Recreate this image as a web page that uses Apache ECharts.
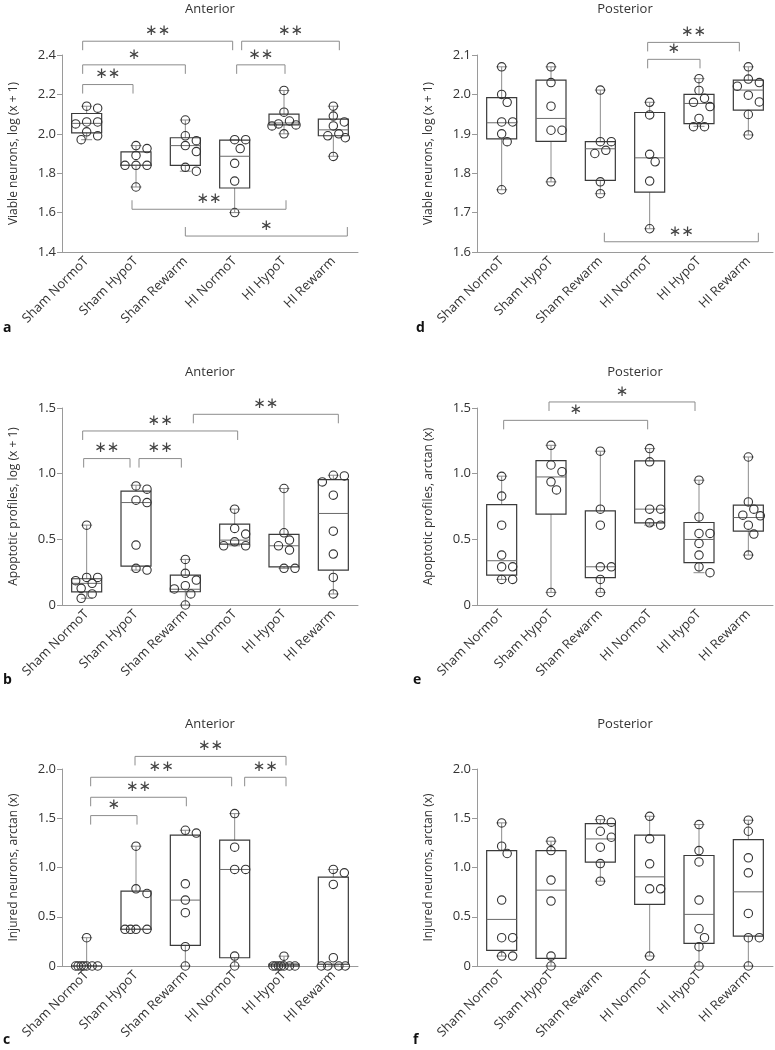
<!DOCTYPE html>
<html><head><meta charset="utf-8">
<script src="https://cdn.jsdelivr.net/npm/echarts@6/dist/echarts.min.js"></script>
<style>html,body{margin:0;padding:0;background:#fff}#c{width:775px;height:1050px}</style>
</head><body><div id="c"></div>
<script>
// ---------------- DATA ----------------
const categories = ['Sham NormoT', 'Sham HypoT', 'Sham Rewarm', 'HI NormoT', 'HI HypoT', 'HI Rewarm'];

// box stats per group: [min, q1, median, q3, max]
const aBoxes = [[1.97,2.005,2.053,2.103,2.14],[1.73,1.84,1.84,1.908,1.94],[1.81,1.84,1.94,1.98,2.07],[1.60,1.725,1.886,1.968,1.97],[2.00,2.045,2.055,2.10,2.22],[1.886,1.99,2.02,2.075,2.14]];
const aPoints = [[2.14,2.13,2.06,2.05,2.06,2.01,1.99,1.97],[1.94,1.925,1.89,1.84,1.84,1.84,1.73],[2.07,1.99,1.965,1.94,1.91,1.83,1.81],[1.97,1.97,1.925,1.85,1.76,1.60],[2.22,2.11,2.065,2.05,2.045,2.04,2.00],[2.14,2.09,2.06,2.04,2.00,1.99,1.98,1.885]];
const aBrackets = [[0,3,2.47,'down'],[3,5,2.47,'down'],[0,2,2.35,'down'],[3,4,2.35,'down'],[0,1,2.25,'down'],[1,4,1.617,'up'],[2,5,1.481,'up']];
const aBracketLabels = ['**','**','*','**','**','**','*'];

const dBoxes = [[1.758,1.887,1.928,1.992,2.07],[1.778,1.881,1.939,2.036,2.07],[1.748,1.782,1.862,1.88,2.011],[1.659,1.752,1.839,1.954,1.98],[1.919,1.926,1.977,2.0,2.04],[1.897,1.96,2.011,2.036,2.07]];
const dPoints = [[2.07,2.0,1.98,1.93,1.93,1.90,1.88,1.758],[2.07,2.03,1.97,1.909,1.909,1.778],[2.011,1.88,1.88,1.858,1.85,1.778,1.748],[1.98,1.948,1.848,1.829,1.78,1.659],[2.04,2.01,1.99,1.98,1.969,1.939,1.918,1.918],[2.07,2.039,2.03,2.021,1.998,1.981,1.949,1.897]];
const dBrackets = [[3,5,2.132,'down'],[3,4,2.089,'down'],[2,5,1.626,'up']];
const dBracketLabels = ['**','*','**'];

const bBoxes = [[0.051,0.10,0.165,0.20,0.608],[0.266,0.296,0.78,0.867,0.912],[0.0,0.101,0.12,0.228,0.347],[0.451,0.464,0.494,0.616,0.73],[0.279,0.291,0.451,0.537,0.887],[0.084,0.266,0.697,0.955,0.988]];
const bPoints = [[0.608,0.21,0.21,0.185,0.165,0.127,0.084,0.051],[0.907,0.882,0.798,0.78,0.456,0.279,0.266],[0.347,0.241,0.19,0.147,0.122,0.084,0.0],[0.73,0.583,0.54,0.481,0.451,0.451],[0.887,0.55,0.494,0.451,0.418,0.279,0.279],[0.988,0.983,0.937,0.836,0.562,0.388,0.21,0.084]];
const bBrackets = [[0,3,1.325,'down'],[2,5,1.452,'down'],[0,1,1.115,'down'],[1,2,1.115,'down']];
const bBracketLabels = ['**','**','**','**'];

const eBoxes = [[0.195,0.228,0.337,0.765,0.981],[0.096,0.692,0.975,1.1,1.216],[0.096,0.208,0.291,0.717,1.171],[0.608,0.626,0.73,1.097,1.191],[0.246,0.322,0.499,0.628,0.95],[0.38,0.562,0.666,0.76,1.127]];
const ePoints = [[0.98,0.829,0.608,0.38,0.291,0.291,0.195,0.195],[1.216,1.066,1.015,0.938,0.876,0.096],[1.171,0.73,0.608,0.291,0.291,0.195,0.096],[1.191,1.09,0.73,0.73,0.626,0.608],[0.95,0.671,0.545,0.545,0.469,0.38,0.291,0.246],[1.127,0.785,0.73,0.684,0.679,0.608,0.54,0.38]];
const eBrackets = [[0,3,1.406,'down'],[1,4,1.546,'down']];
const eBracketLabels = ['*','*'];

const cBoxes = [[0,0,0,0,0.287],[0.372,0.372,0.372,0.76,1.216],[0,0.209,0.669,1.328,1.378],[0,0.084,0.98,1.277,1.547],[0,0,0,0.02,0.1],[0,0.017,0.017,0.902,0.98]];
const cPoints = [[0.287,0,0,0,0,0,0,0],[1.216,0.784,0.736,0.372,0.372,0.372,0.372],[1.378,1.35,0.834,0.669,0.541,0.196,0],[1.547,1.206,0.98,0.98,0.101,0],[0.1,0,0,0,0,0,0,0],[0.98,0.946,0.828,0.084,0,0,0,0]];
const cBrackets = [[1,4,2.128,'down'],[0,3,1.916,'down'],[3,4,1.916,'down'],[0,2,1.713,'down'],[0,1,1.527,'down']];
const cBracketLabels = ['**','**','**','**','*'];

const fBoxes = [[0.101,0.159,0.473,1.172,1.453],[0,0.078,0.77,1.172,1.267],[0.861,1.054,1.29,1.446,1.486],[0.101,0.625,0.905,1.328,1.52],[0,0.23,0.524,1.122,1.436],[0,0.304,0.753,1.284,1.48]];
const fPoints = [[1.453,1.216,1.142,0.669,0.287,0.287,0.101,0.101],[1.267,1.172,0.872,0.659,0.101,0],[1.486,1.46,1.368,1.307,1.206,1.04,0.861],[1.52,1.291,1.037,0.784,0.784,0.101],[1.436,1.172,1.057,0.669,0.378,0.287,0.196,0],[1.48,1.368,1.098,0.946,0.534,0.287,0.287,0]];
const fBrackets = [];
const fBracketLabels = [];

// axis ranges and tick steps
const aAxis = [1.4, 2.4, 0.2];
const dAxis = [1.6, 2.1, 0.1];
const bAxis = [0, 1.5, 0.5];
const eAxis = [0, 1.5, 0.5];
const cAxis = [0, 2.0, 0.5];
const fAxis = [0, 2.0, 0.5];

const titles = { a: 'Anterior', d: 'Posterior', b: 'Anterior', e: 'Posterior', c: 'Anterior', f: 'Posterior' };
const yNames = {
  a: 'Viable neurons, log (x + 1)', d: 'Viable neurons, log (x + 1)',
  b: 'Apoptotic profiles, log (x + 1)', e: 'Apoptotic profiles, arctan (x)',
  c: 'Injured neurons, arctan (x)', f: 'Injured neurons, arctan (x)'
};

// ---------------- LAYOUT / STYLE ----------------
const GRID_W = 296, GRID_H = 197;
const layout = {
  a: { left: 62, top: 55, titleX: 210, titleY: 9, letterX: 3, letterY: 328, nudge: [[-4,-2],[7,6],[-4,0],[2,1],[-4,-3],[-4,2],[0,14]] },
  d: { left: 477, top: 55, titleX: 625, titleY: 9, letterX: 416, letterY: 328, nudge: [[-2,-9],[-2,1],[4,10]] },
  b: { left: 62, top: 408, titleX: 210, titleY: 372, letterX: 3, letterY: 680, nudge: [[-4,3],[8,5],[-3,-6],[3,-4]] },
  e: { left: 477, top: 408, titleX: 635, titleY: 372, letterX: 413, letterY: 680, nudge: [[2,-2],[-2,-4]] },
  c: { left: 62, top: 769, titleX: 210, titleY: 724, letterX: 3, letterY: 1040, nudge: [[-1,2],[4,-3],[10,2],[4,1],[4,1]] },
  f: { left: 477, top: 769, titleX: 625, titleY: 724, letterX: 413, letterY: 1040, nudge: [] }
};
const panels = [
  { key: 'a', boxes: aBoxes, points: aPoints, brackets: aBrackets, labels: aBracketLabels, axis: aAxis },
  { key: 'd', boxes: dBoxes, points: dPoints, brackets: dBrackets, labels: dBracketLabels, axis: dAxis },
  { key: 'b', boxes: bBoxes, points: bPoints, brackets: bBrackets, labels: bBracketLabels, axis: bAxis },
  { key: 'e', boxes: eBoxes, points: ePoints, brackets: eBrackets, labels: eBracketLabels, axis: eAxis },
  { key: 'c', boxes: cBoxes, points: cPoints, brackets: cBrackets, labels: cBracketLabels, axis: cAxis },
  { key: 'f', boxes: fBoxes, points: fPoints, brackets: fBrackets, labels: fBracketLabels, axis: fAxis }
];

const FONT = '"Open Sans", "Noto Sans", sans-serif';
const TXT = '#333';
const AXIS_C = '#9a9a9a';
const R = 4.2, COLLIDE = 9, STEP = 5.5, CAP = 12;

// beeswarm offsets (pixels), computed from values and the axis pixel scale
function swarm(values, pxPerUnit) {
  const order = values.map((v, i) => i).sort((i, j) => values[j] - values[i]);
  const placed = [];
  const offs = new Array(values.length).fill(0);
  const cands = [0, STEP, -STEP, 2 * STEP, -2 * STEP];
  order.forEach(idx => {
    const y = values[idx] * pxPerUnit;
    const minDist = dx => placed.reduce((m, p) => Math.min(m, Math.hypot(dx - p[0], y - p[1])), Infinity);
    let chosen = null;
    for (const c of cands) { if (minDist(c) >= COLLIDE) { chosen = c; break; } }
    if (chosen === null) {
      let best = -1;
      for (let dx = -CAP; dx <= CAP; dx += 0.5) {
        const md = minDist(dx);
        if (md > best + 1e-6) { best = md; chosen = dx; }
      }
    }
    offs[idx] = chosen;
    placed.push([chosen, y]);
  });
  return offs;
}

const grids = [], xAxes = [], yAxes = [], series = [], graphics = [];
const fmt = v => (Math.abs(v) < 1e-9 ? '0' : v.toFixed(1));

panels.forEach((p, gi) => {
  const L = layout[p.key];
  const [ymin, ymax, ystep] = p.axis;
  grids.push({ left: L.left, top: L.top, width: GRID_W, height: GRID_H });
  xAxes.push({
    type: 'category', gridIndex: gi, data: categories, boundaryGap: true,
    axisLine: { onZero: false, lineStyle: { color: AXIS_C, width: 1 } },
    axisTick: { alignWithLabel: true, length: 5, lineStyle: { color: AXIS_C } },
    axisLabel: { rotate: 45, fontSize: 13, color: TXT, margin: 7, fontFamily: FONT, interval: 0 },
    splitLine: { show: false }
  });
  xAxes.push({ type: 'value', gridIndex: gi, min: -0.5, max: 5.5, show: false, splitLine: { show: false } });
  yAxes.push({
    type: 'value', gridIndex: gi, min: ymin, max: ymax, interval: ystep,
    name: yNames[p.key], nameLocation: 'middle', nameGap: 42,
    nameTextStyle: { fontSize: 12, color: TXT, fontFamily: FONT },
    axisLine: { show: true, onZero: false, lineStyle: { color: AXIS_C, width: 1 } },
    axisTick: { show: true, length: 5, lineStyle: { color: AXIS_C } },
    axisLabel: { fontSize: 13, color: TXT, margin: 6, fontFamily: FONT, formatter: fmt },
    splitLine: { show: false }
  });
  const xi = gi * 2 + 1;
  const pxPerUnit = GRID_H / (ymax - ymin);

  // boxes
  series.push({
    type: 'custom', xAxisIndex: xi, yAxisIndex: gi, z: 3, silent: true,
    data: p.boxes.map((b, i) => [i, b[0], b[1], b[2], b[3], b[4]]),
    renderItem: (params, api) => {
      const i = api.value(0);
      const pMin = api.coord([i, api.value(1)]), pQ1 = api.coord([i, api.value(2)]);
      const pMed = api.coord([i, api.value(3)]), pQ3 = api.coord([i, api.value(4)]);
      const pMax = api.coord([i, api.value(5)]);
      const cx = pMin[0], hw = 15, cw = 5.5;
      const wh = { stroke: '#8c8c8c', lineWidth: 1 };
      return {
        type: 'group', children: [
          { type: 'line', shape: { x1: cx, y1: pQ3[1], x2: cx, y2: pMax[1] }, style: wh },
          { type: 'line', shape: { x1: cx, y1: pQ1[1], x2: cx, y2: pMin[1] }, style: wh },
          { type: 'line', shape: { x1: cx - cw, y1: pMax[1], x2: cx + cw, y2: pMax[1] }, style: wh },
          { type: 'line', shape: { x1: cx - cw, y1: pMin[1], x2: cx + cw, y2: pMin[1] }, style: wh },
          { type: 'rect', shape: { x: cx - hw, y: pQ3[1], width: 2 * hw, height: pQ1[1] - pQ3[1] }, style: { fill: 'none', stroke: '#3a3a3a', lineWidth: 1.2 } },
          { type: 'line', shape: { x1: cx - hw, y1: pMed[1], x2: cx + hw, y2: pMed[1] }, style: { stroke: '#6a6a6a', lineWidth: 1 } }
        ]
      };
    }
  });

  // points
  const ptData = [];
  p.points.forEach((vals, i) => {
    const offs = swarm(vals, pxPerUnit);
    vals.forEach((v, k) => ptData.push([i, v, offs[k]]));
  });
  series.push({
    type: 'custom', xAxisIndex: xi, yAxisIndex: gi, z: 4, silent: true,
    data: ptData,
    renderItem: (params, api) => {
      const c = api.coord([api.value(0), api.value(1)]);
      return { type: 'circle', shape: { cx: c[0] + api.value(2), cy: c[1], r: R }, style: { fill: 'none', stroke: '#333', lineWidth: 1.1 } };
    }
  });

  // significance brackets
  if (p.brackets.length) {
    series.push({
      type: 'custom', xAxisIndex: xi, yAxisIndex: gi, z: 5, silent: true, clip: false,
      data: p.brackets.map(b => [b[0], b[1], b[2], b[3] === 'up' ? 1 : 0]),
      renderItem: (params, api) => {
        const k = params.dataIndex;
        const n = L.nudge[k] || [0, 0];
        const a = api.coord([api.value(0), api.value(2)]);
        const b = api.coord([api.value(1), api.value(2)]);
        const x1 = a[0] + n[0], x2 = b[0] + n[1], y = a[1];
        const t = api.value(3) ? -9 : 9;
        const stars = p.labels[k].replace(/\*/g, '\u2217');
        return {
          type: 'group', children: [
            { type: 'polyline', shape: { points: [[x1, y + t], [x1, y], [x2, y], [x2, y + t]] }, style: { fill: 'none', stroke: '#8c8c8c', lineWidth: 1 } },
            { type: 'text', x: (x1 + x2) / 2, y: y - 10, style: { text: stars, fill: '#444', font: '15px "DejaVu Sans"', align: 'center', verticalAlign: 'middle', textAlign: 'center', textVerticalAlign: 'middle' } }
          ]
        };
      }
    });
  }

  graphics.push({ type: 'text', x: L.titleX, y: L.titleY, style: { text: titles[p.key], fill: TXT, font: '13px ' + FONT, align: 'center', verticalAlign: 'middle', textAlign: 'center', textVerticalAlign: 'middle' } });
  graphics.push({ type: 'text', x: L.letterX, y: L.letterY, style: { text: p.key, fill: '#111', font: 'bold 14px ' + FONT, align: 'left', verticalAlign: 'middle', textAlign: 'left', textVerticalAlign: 'middle' } });
});

const chart = echarts.init(document.getElementById('c'), null, { renderer: 'canvas' });
chart.setOption({
  animation: false,
  backgroundColor: '#fff',
  textStyle: { fontFamily: FONT },
  grid: grids, xAxis: xAxes, yAxis: yAxes, series: series, graphic: graphics
});
</script></body></html>
